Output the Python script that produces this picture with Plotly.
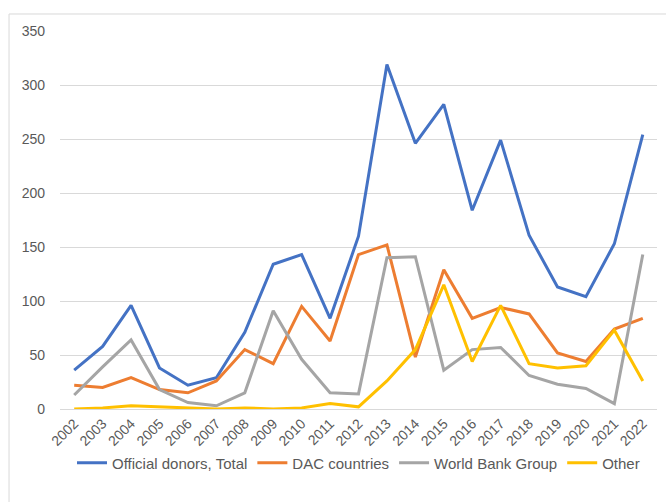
import plotly.graph_objects as go

years = [str(y) for y in range(2002, 2023)]
official_total = [36, 58, 96, 38, 22, 29, 71, 134, 143, 84, 160, 319, 246, 282, 184, 249, 161, 113, 104, 153, 254]
dac_countries = [22, 20, 29, 18, 15, 26, 55, 42, 95, 63, 143, 152, 48, 129, 84, 94, 88, 52, 44, 74, 84]
world_bank = [13, 39, 64, 18, 6, 3, 15, 91, 46, 15, 14, 140, 141, 36, 55, 57, 31, 23, 19, 5, 143]
other = [0, 1, 3, 2, 1, 0, 1, 0, 1, 5, 2, 26, 55, 115, 44, 96, 42, 38, 40, 73, 26]

series = [
    ("Official donors, Total", official_total, "#4472C4"),
    ("DAC countries", dac_countries, "#ED7D31"),
    ("World Bank Group", world_bank, "#A5A5A5"),
    ("Other", other, "#FFC000"),
]

fig = go.Figure()
for name, vals, color in series:
    fig.add_trace(go.Scatter(x=years, y=vals, name=name, mode="lines",
                             line=dict(color=color, width=3)))

font_family = "Liberation Sans, Arial, sans-serif"
fig.update_layout(
    width=666, height=502,
    margin=dict(l=60, r=9, t=31, b=93),
    paper_bgcolor="white", plot_bgcolor="white",
    font=dict(family=font_family, size=14, color="#595959"),
    showlegend=True,
    legend=dict(orientation="h", x=0.5, xanchor="center", y=-0.143, yanchor="middle",
                font=dict(size=15, color="#595959"), itemwidth=30, tracegroupgap=0),
    xaxis=dict(type="category", tickangle=-45, showgrid=False, showline=True,
               linecolor="#D9D9D9", linewidth=1, ticks="", range=[-0.5, 20.5],
               tickfont=dict(size=14, color="#595959")),
    yaxis=dict(range=[0, 350], dtick=50, showgrid=True, gridcolor="#D9D9D9",
               gridwidth=1, zeroline=False, showline=False, ticks="",
               ticklabelstandoff=14, tickfont=dict(size=14, color="#595959")),
    shapes=[
        dict(type="line", xref="paper", yref="paper", x0=-0.0854, x1=-0.0854,
             y0=1.045, y1=-0.3, line=dict(color="#D9D9D9", width=1)),
        dict(type="line", xref="paper", yref="paper", x0=-0.0854, x1=1.1,
             y0=1.045, y1=1.045, line=dict(color="#D9D9D9", width=1)),
    ],
)

fig.write_html("out.html")
